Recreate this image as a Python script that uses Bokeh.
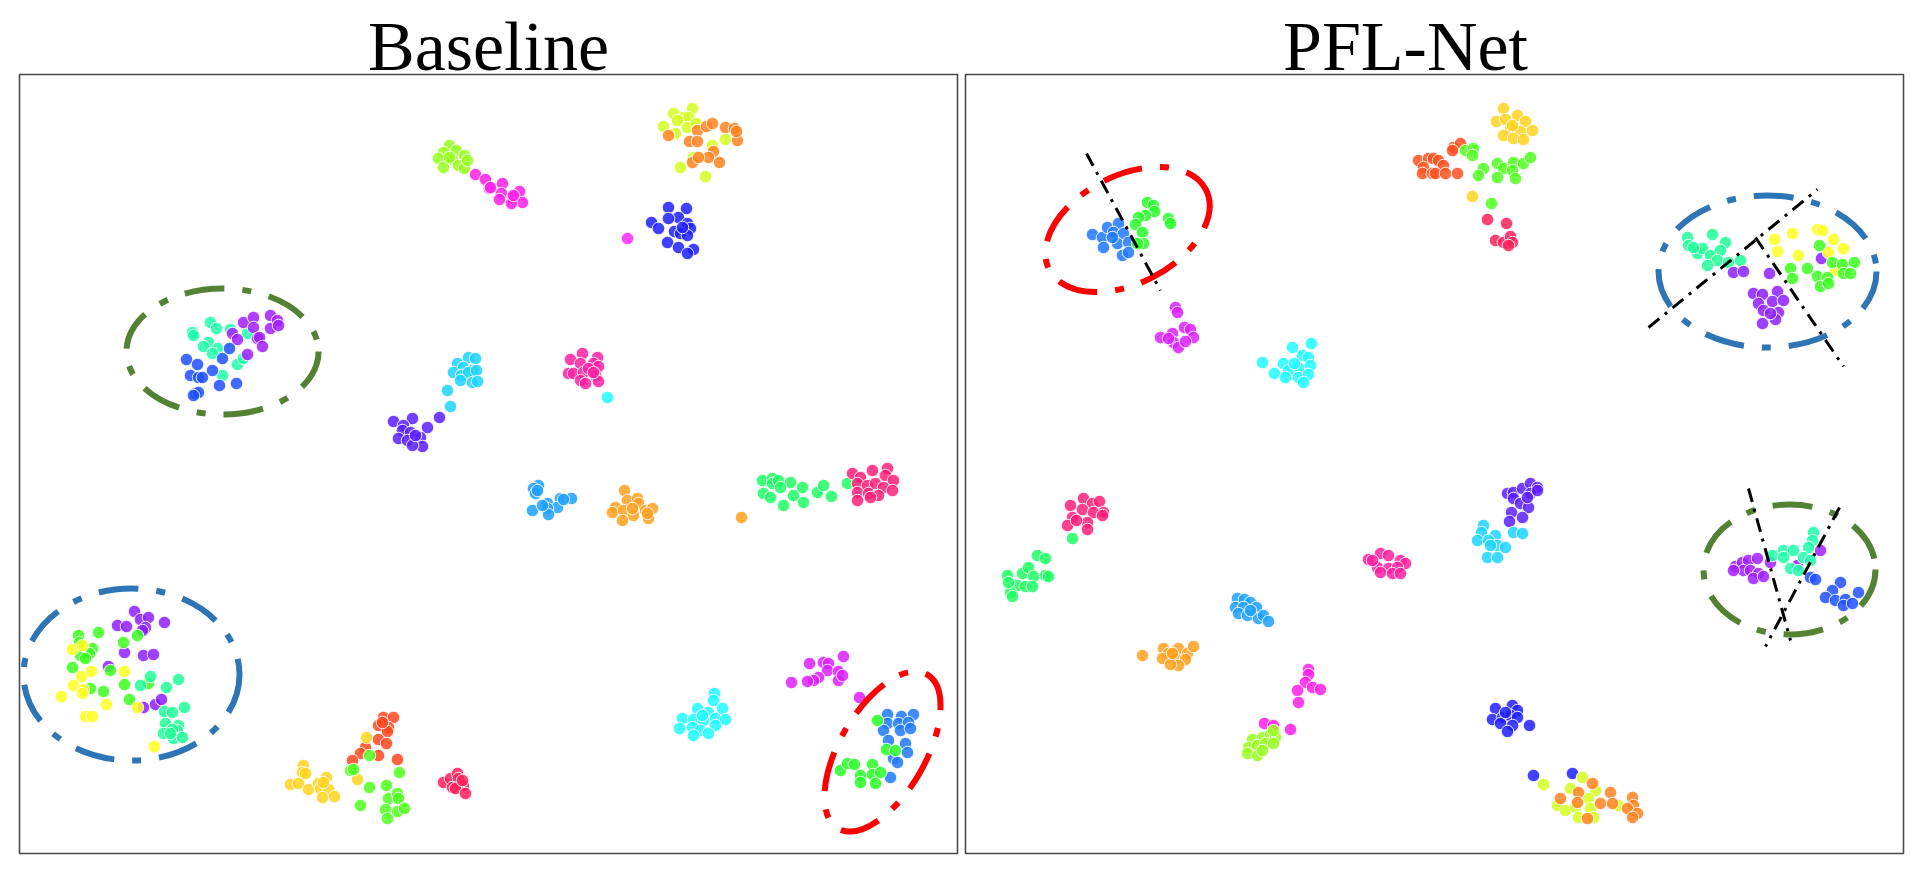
from bokeh.plotting import figure
from bokeh.layouts import row
from bokeh.models import ColumnDataSource, Range1d
from bokeh.core.properties import value
from bokeh.embed import file_html
from bokeh.resources import INLINE

# ---------------- data: t-SNE embeddings (pixel-like units) ----------------
# Baseline panel clusters: (x, y) pairs, y grows downward
b_lime = [(449,145),(443,152),(456,150),(464,155),(438,158),(452,159),(458,165),(443,167),(464,168),(449,157),(467,160)]
b_magenta = [(475,174),(485,179),(489,188),(490,187),(502,183),(501,193),(499,199),(512,197),(519,191),(522,202),(511,203),(513,195)]
b_ylime = [(692,108),(673,113),(683,117),(688,117),(677,120),(663,126),(675,133),(687,127),(696,123),(725,139),(712,145),(693,157),(680,167),(705,176)]
b_orange = [(668,135),(697,130),(706,126),(712,123),(725,127),(734,128),(737,140),(736,131),(689,141),(697,141),(713,151),(708,157),(719,162),(692,162),(698,157)]
b_blue = [(668,207),(686,208),(678,217),(668,218),(651,222),(658,228),(687,223),(690,228),(674,231),(680,233),(687,235),(667,242),(678,247),(693,249),(687,253),(682,227)]
b_magenta_out = [(627,238)]
b_teal = [(192,332),(193,335),(210,322),(216,328),(208,342),(203,346),(217,348),(212,353),(230,329),(247,333),(237,364),(243,358),(222,375)]
b_purple = [(243,322),(253,317),(253,327),(232,333),(237,339),(257,338),(259,337),(262,346),(247,354),(270,315),(277,320),(270,328),(278,325)]
b_royal = [(186,359),(197,364),(222,358),(229,348),(212,370),(190,375),(198,377),(202,377),(219,385),(236,383),(195,393),(198,392),(193,395)]
b_cyanblue = [(468,357),(475,358),(457,363),(463,367),(472,370),(453,372),(461,375),(468,372),(476,370),(460,380),(472,382),(477,381),(447,390),(450,406)]
b_indigo = [(439,417),(427,427),(412,418),(393,421),(403,425),(402,430),(410,432),(398,438),(407,440),(420,437),(422,446),(412,445),(415,435)]
b_pink = [(570,359),(582,353),(597,357),(580,363),(593,363),(598,366),(568,373),(573,373),(583,372),(588,368),(595,375),(580,380),(585,383),(598,381),(593,372)]
b_cyan_out = [(607,397)]
b_sky = [(538,485),(533,488),(535,493),(537,490),(560,498),(571,498),(547,503),(557,507),(532,510),(547,508),(548,514),(563,499),(542,505)]
b_amber = [(624,490),(627,500),(637,498),(638,503),(615,507),(612,512),(623,510),(633,515),(645,510),(652,508),(648,518),(622,520),(632,508),(647,513),(741,517)]
b_green = [(762,480),(772,478),(772,483),(778,480),(790,482),(802,487),(780,487),(763,493),(770,497),(793,495),(783,505),(803,502),(817,492),(823,485),(831,496),(847,483)]
b_crimson = [(852,473),(860,477),(872,470),(887,468),(885,475),(893,480),(857,483),(867,485),(875,483),(883,487),(892,490),(857,492),(868,493),(878,495),(857,500),(870,497)]
b_violet = [(134,611),(140,619),(148,617),(145,627),(117,625),(126,626),(142,630),(164,622),(124,652),(143,655),(153,654),(108,666),(143,707),(155,704),(161,699)]
b_green2 = [(78,635),(79,642),(98,632),(92,648),(89,653),(80,655),(85,658),(72,667),(123,642),(137,635),(110,670),(124,684),(90,688),(103,691),(129,699),(148,683)]
b_yellow = [(72,649),(82,645),(91,671),(81,676),(73,685),(83,689),(82,693),(61,696),(106,704),(124,671),(85,716),(92,716),(137,707),(154,746)]
b_teal2 = [(150,676),(140,685),(166,687),(178,679),(164,711),(172,712),(184,707),(165,723),(178,725),(177,730),(163,733),(172,729),(173,738),(182,737),(170,733)]
b_redorange = [(383,717),(393,717),(378,725),(388,727),(387,731),(378,739),(386,743),(365,747),(360,753),(378,755),(352,760),(397,759),(382,722)]
b_gold = [(366,737),(357,779),(303,765),(302,772),(305,773),(290,784),(298,783),(308,789),(318,783),(326,777),(320,788),(328,789),(322,797),(334,796),(323,782)]
b_lgreen = [(369,755),(350,770),(353,769),(399,772),(369,787),(386,785),(360,805),(388,798),(397,793),(398,798),(385,809),(397,811),(404,808),(387,818)]
b_rose = [(443,782),(450,778),(457,773),(458,778),(463,785),(452,787),(455,788),(465,793),(462,780)]
b_cyan = [(714,693),(713,700),(697,708),(708,712),(722,708),(682,718),(693,719),(703,720),(715,718),(725,719),(679,728),(692,727),(700,730),(715,725),(693,735),(708,733),(702,715)]
b_orchid = [(809,663),(823,662),(828,663),(843,656),(827,670),(838,671),(818,677),(813,680),(807,681),(838,680),(842,675),(791,682),(859,697)]
b_cornflower = [(887,714),(901,716),(913,714),(887,723),(898,723),(908,722),(883,730),(900,730),(910,728),(888,740),(905,743),(907,752),(893,758),(897,762),(890,777)]
b_green3 = [(877,720),(886,749),(895,750),(840,770),(847,763),(854,764),(860,775),(872,764),(872,774),(880,772),(860,782),(875,783)]

# PFL-Net panel clusters
n_cornflower = [(1092,234),(1102,237),(1107,227),(1118,223),(1113,232),(1123,233),(1103,247),(1117,243),(1128,242),(1122,255),(1128,252),(1112,237)]
n_green = [(1147,202),(1153,205),(1154,211),(1145,215),(1138,217),(1135,224),(1142,232),(1143,243),(1168,218),(1170,223),(1137,243)]
n_orchid = [(1175,307),(1177,312),(1160,337),(1172,333),(1184,327),(1190,329),(1193,337),(1173,342),(1178,347),(1185,341),(1168,338)]
n_cyan = [(1311,343),(1292,347),(1302,355),(1308,357),(1262,362),(1283,363),(1288,370),(1298,367),(1310,365),(1274,373),(1285,377),(1298,377),(1308,374),(1303,382),(1294,363)]
n_redorange = [(1418,160),(1428,158),(1423,167),(1422,173),(1432,173),(1453,147),(1460,143),(1452,150),(1433,158),(1438,160),(1443,165),(1435,173),(1445,173),(1457,173)]
n_lgreen = [(1465,150),(1473,148),(1472,155),(1483,168),(1478,175),(1497,163),(1503,168),(1513,162),(1512,170),(1497,177),(1515,178),(1523,163),(1530,157),(1491,203)]
n_gold = [(1503,108),(1496,121),(1505,119),(1517,115),(1525,121),(1510,128),(1520,131),(1532,130),(1503,135),(1513,138),(1523,139),(1512,125),(1472,196)]
n_crimson = [(1487,219),(1506,223),(1495,240),(1503,242),(1510,236),(1512,242),(1508,245)]
n_teal = [(1687,237),(1688,245),(1697,253),(1702,248),(1712,234),(1725,242),(1720,250),(1710,255),(1717,260),(1707,265),(1728,262),(1740,260),(1693,247)]
n_violet = [(1733,272),(1743,271),(1769,273),(1821,258),(1753,293),(1762,294),(1777,291),(1758,303),(1772,301),(1783,300),(1763,310),(1778,312),(1775,319),(1762,323),(1770,313)]
n_yellow = [(1774,239),(1792,233),(1817,229),(1822,230),(1833,239),(1843,248),(1777,251),(1798,255),(1828,252),(1835,270)]
n_green2 = [(1819,245),(1790,268),(1807,268),(1792,278),(1832,262),(1842,264),(1854,262),(1817,276),(1827,277),(1843,273),(1850,273),(1820,286),(1828,283)]
n_pink = [(1070,505),(1083,498),(1092,503),(1099,501),(1103,512),(1072,517),(1082,509),(1093,512),(1087,522),(1102,515),(1067,525),(1087,529),(1076,520)]
n_green3 = [(1072,538),(1037,555),(1045,558),(1007,575),(1022,573),(1028,567),(1033,576),(1045,575),(1048,576),(1017,585),(1025,586),(1032,586),(1010,592),(1012,596),(1008,582)]
n_sky = [(1237,598),(1244,599),(1250,602),(1235,607),(1243,607),(1256,607),(1238,613),(1247,615),(1258,618),(1263,615),(1268,621),(1250,610)]
n_amber = [(1142,655),(1163,648),(1168,653),(1178,648),(1187,653),(1193,646),(1162,658),(1175,658),(1185,659),(1178,665),(1170,664),(1172,653)]
n_magenta = [(1308,669),(1308,674),(1305,682),(1312,687),(1320,689),(1297,690),(1298,702),(1264,723),(1273,725),(1290,729)]
n_lime = [(1252,739),(1262,737),(1270,734),(1275,737),(1248,747),(1257,745),(1265,743),(1273,743),(1247,753),(1257,755),(1262,750),(1273,730)]
n_hotpink = [(1368,559),(1380,553),(1388,555),(1400,560),(1405,563),(1377,567),(1388,568),(1397,567),(1380,572),(1392,573),(1400,573),(1372,560)]
n_indigo = [(1507,493),(1513,492),(1522,488),(1530,483),(1537,487),(1530,493),(1513,498),(1520,503),(1528,507),(1511,512),(1522,517),(1509,521),(1527,497),(1537,490)]
n_cyanblue = [(1483,525),(1481,532),(1495,535),(1477,540),(1488,540),(1497,545),(1505,547),(1487,557),(1497,557),(1513,532),(1522,533),(1490,545)]
n_blue = [(1495,708),(1512,705),(1517,710),(1492,719),(1502,717),(1510,715),(1517,717),(1500,723),(1512,725),(1507,731),(1529,725),(1505,712),(1533,775),(1572,773)]
n_ylime = [(1543,784),(1582,777),(1570,788),(1595,790),(1588,798),(1557,805),(1565,810),(1575,807),(1590,808),(1578,817),(1593,817),(1618,805)]
n_orange = [(1592,783),(1578,792),(1560,798),(1577,802),(1600,803),(1610,792),(1612,803),(1632,797),(1633,805),(1627,808),(1637,813),(1632,817),(1587,818)]
n_purple = [(1735,566),(1742,562),(1748,560),(1757,558),(1743,570),(1750,570),(1758,573),(1733,570),(1753,578),(1763,576),(1770,562),(1797,565),(1820,550)]
n_teal2 = [(1813,532),(1812,540),(1808,547),(1783,550),(1793,550),(1772,555),(1803,557),(1790,568),(1798,570),(1810,560),(1783,557)]
n_royal = [(1810,577),(1815,579),(1840,582),(1832,590),(1825,597),(1835,600),(1845,599),(1843,605),(1858,592),(1852,603)]

baseline_clusters = [
    (b_lime, "#96ff1e"), (b_magenta, "#ff1ee6"), (b_ylime, "#d2ff1e"), (b_orange, "#ff821e"),
    (b_blue, "#1e1eff"), (b_magenta_out, "#ff28ff"), (b_teal, "#1effaa"), (b_purple, "#a01eff"),
    (b_royal, "#1e50ff"), (b_cyanblue, "#1ed2ff"), (b_indigo, "#5a1eff"), (b_pink, "#ff1ea0"),
    (b_cyan_out, "#1efaff"), (b_sky, "#1ea0ff"), (b_amber, "#ffa01e"), (b_green, "#1eff64"),
    (b_crimson, "#ff1e78"), (b_violet, "#8c1eff"), (b_green2, "#3cff1e"), (b_yellow, "#ffff1e"),
    (b_teal2, "#1eff96"), (b_redorange, "#ff461e"), (b_gold, "#ffd21e"), (b_lgreen, "#50ff1e"),
    (b_rose, "#ff1e5a"), (b_cyan, "#1efaff"), (b_orchid, "#dc1eff"), (b_cornflower, "#1e78ff"),
    (b_green3, "#28ff28"),
]
pfl_clusters = [
    (n_cornflower, "#1e78ff"), (n_green, "#28ff28"), (n_orchid, "#dc1eff"), (n_cyan, "#1efaff"),
    (n_redorange, "#ff501e"), (n_lgreen, "#50ff1e"), (n_gold, "#ffd21e"), (n_crimson, "#ff1e5a"),
    (n_teal, "#1eff96"), (n_violet, "#8c1eff"), (n_yellow, "#ffff1e"), (n_green2, "#3cff1e"),
    (n_pink, "#ff1e78"), (n_green3, "#1eff64"), (n_sky, "#1ea0ff"), (n_amber, "#ffa01e"),
    (n_magenta, "#ff1ee6"), (n_lime, "#96ff1e"), (n_hotpink, "#ff1ea0"), (n_indigo, "#5a1eff"),
    (n_cyanblue, "#1ed2ff"), (n_blue, "#1e1eff"), (n_ylime, "#d2ff1e"), (n_orange, "#ff821e"),
    (n_purple, "#a01eff"), (n_teal2, "#1effaa"), (n_royal, "#1e50ff"),
]

# ---------------- styling / layout ----------------
TITLE_FONT = "Liberation Serif"
ELL_DASH = "40 18 9 18"
CUT_DASH = "14 7 3 7"
FIG_H = 861


def make_panel(clusters, x0, x1, box, title, title_x):
    p = figure(width=x1 - x0, height=FIG_H, x_range=Range1d(x0, x1), y_range=Range1d(FIG_H, 0),
               x_axis_location=None, y_axis_location=None, toolbar_location=None,
               output_backend="svg", min_border=0)
    p.xgrid.visible = False
    p.ygrid.visible = False
    p.outline_line_color = None
    p.background_fill_color = "white"
    p.border_fill_color = "white"
    # panel frame
    p.quad(left=[box[0]], right=[box[1]], top=[box[2]], bottom=[box[3]],
           fill_color=None, line_color="#4a4a4a", line_width=1.6)
    for pts, col in clusters:
        src = ColumnDataSource(dict(x=[a for a, _ in pts], y=[b for _, b in pts]))
        p.scatter("x", "y", source=src, size=12.5, fill_color=col, fill_alpha=0.85,
                  line_color="white", line_width=1, line_alpha=0.9)
    p.text(x=[title_x], y=[46], text=[title], text_font=value(TITLE_FONT),
           text_font_size="70px", text_align="center", text_baseline="alphabetic",
           text_color="black")
    return p


p1 = make_panel(baseline_clusters, 0, 961, (19, 957, 74, 853), "Baseline", 488)
p2 = make_panel(pfl_clusters, 961, 1905, (965, 1903, 74, 853), "PFL-Net", 1405)

# highlight ellipses (annotation shapes)
for p, cx, cy, w, h, ang, col in [
    (p1, 222, 351, 192, 126, 0, "#548235"),
    (p1, 131, 674, 216, 172, 0, "#2e75b6"),
    (p1, 882, 751, 178, 86, 60, "#ff0000"),
    (p2, 1127, 229, 176, 108, 27, "#ff0000"),
    (p2, 1767, 271, 218, 152, 0, "#2e75b6"),
    (p2, 1789, 569, 172, 130, 0, "#548235"),
]:
    p.ellipse(x=[cx], y=[cy], width=[w], height=[h], angle=ang, angle_units="deg",
              fill_color=None, line_color=col, line_width=6, line_dash=ELL_DASH)

# black separating cuts
for x0, y0, x1, y1 in [(1086, 153, 1160, 290), (1648, 327, 1817, 189), (1755, 237, 1843, 366),
                       (1748, 488, 1790, 640), (1839, 507, 1765, 646)]:
    p2.line([x0, x1], [y0, y1], line_color="black", line_width=3, line_dash=CUT_DASH)

layout = row(p1, p2)
open("out.html", "w").write(file_html(layout, INLINE))
